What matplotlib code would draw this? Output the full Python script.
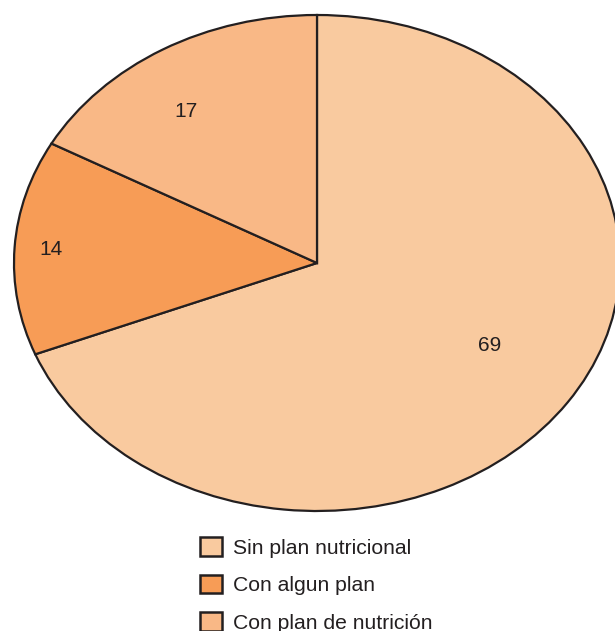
import matplotlib
matplotlib.use("Agg")
import matplotlib.pyplot as plt
from matplotlib.patches import Patch
import numpy as np

categories = ["Sin plan nutricional", "Con algun plan", "Con plan de nutrición"]
values = [69, 14, 17]
colors = ["#F9CA9F", "#F79C56", "#F9B886"]
label_radius = [0.66, 0.88, 0.75]
label_shift_deg = [4.0, 0.0, 4.6]
edge = "#231F20"

plt.rcParams['font.family'] = ['Liberation Sans', 'DejaVu Sans']

fig = plt.figure(figsize=(6.15, 6.31), dpi=100)
ax = fig.add_axes([14/615, (631-511)/631, 606/615, 496/631])
wedges, _ = ax.pie(values, colors=colors, startangle=90, counterclock=False,
                   wedgeprops=dict(edgecolor=edge, linewidth=1.6), radius=1.0)
ax.set_xlim(-1.0, 1.0)
ax.set_ylim(-1.0, 1.0)
ax.set_aspect('auto')
ax.axis('off')

for w, v, r, s in zip(wedges, values, label_radius, label_shift_deg):
    ang = np.deg2rad((w.theta1 + w.theta2) / 2 + s)
    ax.text(r*np.cos(ang), r*np.sin(ang), str(v), ha='center', va='center',
            fontsize=15, color=edge)

handles = [Patch(facecolor=c, edgecolor=edge, linewidth=1.8) for c in colors]
fig.legend(handles, categories, loc='upper left', bbox_to_anchor=(200/615, 1-537/631),
           frameon=False, fontsize=15.2, handlelength=1.05, handleheight=1.0,
           handletextpad=0.5, labelspacing=0.8, borderpad=0, borderaxespad=0,
           labelcolor=edge)

fig.savefig("out.png", dpi=100)
